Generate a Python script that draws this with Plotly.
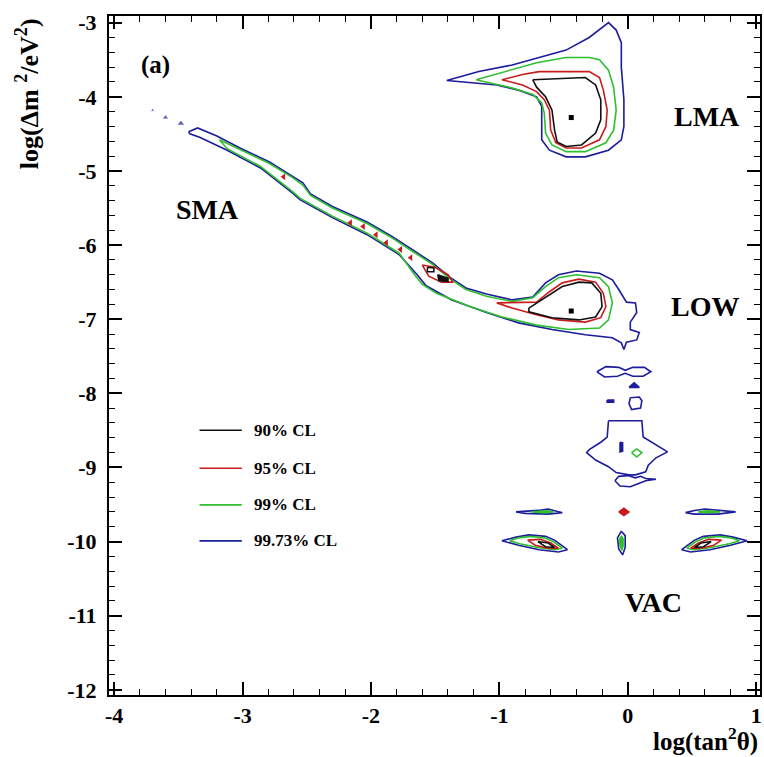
import plotly.graph_objects as go

# Confidence-level line colours
C90 = "#111111"
C95 = "#c81c1c"
C99 = "#2fbf2f"
C997 = "#1c1c9c"

LEVELS = ["90% CL", "95% CL", "99% CL", "99.73% CL"]
LEVEL_COLORS = [C90, C95, C99, C997]

# ---------------- allowed regions: (log tan^2 theta, log dm^2) ----------------
# LMA island
LMA_997 = [(-1.41, -3.78), (-1.16, -3.66), (-0.90, -3.57), (-0.69, -3.47), (-0.48, -3.37),
           (-0.30, -3.20), (-0.20, -3.07), (-0.15, -3.00), (-0.09, -3.10), (-0.05, -3.27),
           (-0.05, -3.60), (-0.03, -4.04), (-0.03, -4.40), (-0.05, -4.58), (-0.15, -4.72),
           (-0.33, -4.81), (-0.48, -4.81), (-0.61, -4.72), (-0.67, -4.58), (-0.67, -4.31),
           (-0.67, -4.13), (-0.71, -4.00), (-0.85, -3.91), (-1.02, -3.84), (-1.23, -3.81)]
LMA_99 = [(-1.18, -3.77), (-0.95, -3.66), (-0.71, -3.54), (-0.48, -3.47), (-0.30, -3.47),
          (-0.22, -3.50), (-0.15, -3.64), (-0.11, -3.87), (-0.09, -4.18), (-0.11, -4.45),
          (-0.17, -4.62), (-0.33, -4.74), (-0.48, -4.74), (-0.59, -4.65), (-0.64, -4.49),
          (-0.65, -4.22), (-0.67, -4.08), (-0.74, -3.97), (-0.90, -3.88), (-1.08, -3.81)]
LMA_95 = [(-0.98, -3.77), (-0.82, -3.70), (-0.69, -3.66), (-0.30, -3.66), (-0.22, -3.74),
          (-0.19, -3.91), (-0.16, -4.18), (-0.17, -4.40), (-0.22, -4.58), (-0.36, -4.69),
          (-0.48, -4.69), (-0.56, -4.62), (-0.60, -4.45), (-0.61, -4.18), (-0.65, -4.04),
          (-0.71, -3.93), (-0.82, -3.84), (-0.92, -3.80)]
LMA_90 = [(-0.74, -3.77), (-0.33, -3.74), (-0.25, -3.84), (-0.21, -4.04), (-0.21, -4.31),
          (-0.25, -4.49), (-0.36, -4.65), (-0.48, -4.67), (-0.55, -4.61), (-0.57, -4.45),
          (-0.59, -4.18), (-0.64, -4.00), (-0.71, -3.87)]

# SMA band joined to the LOW island
BAND_997 = [(-3.42, -4.47), (-3.35, -4.42), (-3.20, -4.53), (-3.02, -4.69), (-2.79, -4.88),
            (-2.61, -5.07), (-2.53, -5.16), (-2.47, -5.31), (-2.30, -5.48), (-2.03, -5.69),
            (-1.83, -5.89), (-1.68, -6.06), (-1.52, -6.24), (-1.39, -6.43), (-1.26, -6.58),
            (-1.10, -6.66), (-0.90, -6.74), (-0.74, -6.70), (-0.64, -6.51), (-0.54, -6.40),
            (-0.40, -6.35), (-0.22, -6.38), (-0.12, -6.47), (-0.07, -6.60), (-0.01, -6.77),
            (0.06, -6.78), (0.07, -6.91), (0.02, -7.04), (0.02, -7.14), (0.09, -7.18),
            (0.07, -7.28), (-0.01, -7.31), (-0.03, -7.41), (-0.05, -7.32), (-0.12, -7.25),
            (-0.33, -7.21), (-0.59, -7.14), (-0.85, -7.05), (-1.10, -6.91), (-1.37, -6.74),
            (-1.57, -6.55), (-1.64, -6.40), (-1.78, -6.13), (-2.03, -5.86), (-2.30, -5.63),
            (-2.55, -5.39), (-2.61, -5.30), (-2.86, -4.96), (-3.12, -4.72), (-3.33, -4.55),
            (-3.41, -4.50)]
BAND_99 = [(-3.18, -4.58), (-3.02, -4.71), (-2.79, -4.90), (-2.61, -5.09), (-2.53, -5.19),
           (-2.47, -5.33), (-2.30, -5.50), (-2.03, -5.71), (-1.83, -5.91), (-1.68, -6.08),
           (-1.52, -6.26), (-1.39, -6.45), (-1.26, -6.60), (-1.10, -6.69), (-0.90, -6.76),
           (-0.74, -6.71), (-0.64, -6.56), (-0.54, -6.44), (-0.40, -6.40), (-0.22, -6.44),
           (-0.15, -6.56), (-0.12, -6.78), (-0.15, -7.01), (-0.22, -7.12), (-0.46, -7.14),
           (-0.71, -7.08), (-0.98, -6.97), (-1.23, -6.83), (-1.49, -6.65), (-1.60, -6.53),
           (-1.66, -6.40), (-1.78, -6.11), (-2.03, -5.84), (-2.30, -5.61), (-2.55, -5.37),
           (-2.61, -5.28), (-2.86, -4.94), (-3.12, -4.70)]
LOW_95 = [(-1.02, -6.78), (-0.71, -6.77), (-0.61, -6.63), (-0.51, -6.51), (-0.38, -6.46),
          (-0.25, -6.50), (-0.19, -6.65), (-0.17, -6.83), (-0.21, -6.98), (-0.33, -7.04),
          (-0.54, -7.01), (-0.71, -6.94), (-0.90, -6.85)]
LOW_90 = [(-0.77, -6.85), (-0.64, -6.71), (-0.51, -6.56), (-0.38, -6.50), (-0.28, -6.51),
          (-0.21, -6.65), (-0.20, -6.83), (-0.25, -6.97), (-0.38, -7.01), (-0.59, -6.98),
          (-0.77, -6.90)]
SMA_95 = [(-1.60, -6.27), (-1.50, -6.30), (-1.40, -6.40), (-1.36, -6.50), (-1.45, -6.50),
          (-1.55, -6.42)]
SMA_90 = [(-1.56, -6.30), (-1.51, -6.31), (-1.51, -6.36), (-1.56, -6.36)]
SMA_90_FILLED = [(-1.48, -6.40), (-1.40, -6.45), (-1.40, -6.49), (-1.47, -6.48)]
# small 95% CL islands along the SMA band
SMA_95_DOTS_X = [-2.68, -2.16, -2.06, -1.96, -1.88, -1.77, -1.69]
SMA_95_DOTS_Y = [-5.08, -5.70, -5.75, -5.86, -5.97, -6.06, -6.17]
# small 99.73% CL islands above the SMA band
SMA_997_DOTS_X = [-3.70, -3.60, -3.48]
SMA_997_DOTS_Y = [-4.18, -4.28, -4.36]

# Vacuum-oscillation islands (99.73% CL unless noted)
VAC_997_A = [(-0.24, -7.71), (-0.17, -7.64), (-0.07, -7.65), (-0.02, -7.69), (0.04, -7.65),
             (0.13, -7.65), (0.18, -7.71), (0.12, -7.77), (0.04, -7.77), (-0.02, -7.73),
             (-0.08, -7.77), (-0.18, -7.78)]
VAC_997_B = [(0.01, -7.92), (0.05, -7.86), (0.09, -7.92)]
VAC_997_C = [(-0.16, -8.09), (-0.11, -8.09), (-0.11, -8.12), (-0.16, -8.12)]
VAC_997_D = [(0.02, -8.06), (0.09, -8.05), (0.11, -8.10), (0.10, -8.20), (0.03, -8.22),
             (0.01, -8.14)]
VAC_997_BELL = [(-0.15, -8.37), (0.11, -8.37), (0.12, -8.59), (0.19, -8.66), (0.31, -8.79),
                (0.22, -8.87), (0.16, -8.97), (0.14, -9.06), (0.06, -9.10), (0.01, -9.10),
                (-0.09, -9.07), (-0.15, -8.99), (-0.25, -8.90), (-0.32, -8.80), (-0.30, -8.76),
                (-0.21, -8.66), (-0.16, -8.59)]
VAC_997_E = [(-0.06, -8.66), (-0.04, -8.67), (-0.04, -8.78), (-0.06, -8.79)]
VAC_99_F = [(0.03, -8.80), (0.07, -8.75), (0.11, -8.80), (0.07, -8.86)]
VAC_997_G = [(-0.10, -9.18), (-0.07, -9.12), (0.00, -9.11), (0.06, -9.14), (0.10, -9.12),
             (0.14, -9.15), (0.22, -9.16), (0.14, -9.18), (0.08, -9.22), (0.02, -9.26),
             (-0.06, -9.25)]
VAC_997_H_LEFT = [(-0.87, -9.60), (-0.70, -9.58), (-0.62, -9.56), (-0.56, -9.59), (-0.51, -9.61),
                  (-0.62, -9.63), (-0.80, -9.62)]
VAC_997_H_RIGHT = [(0.45, -9.61), (0.52, -9.58), (0.60, -9.56), (0.75, -9.58), (0.84, -9.60),
                   (0.70, -9.63), (0.52, -9.63)]
VAC_99_H_LEFT = [(-0.75, -9.60), (-0.62, -9.585), (-0.58, -9.60), (-0.65, -9.61)]
VAC_99_H_RIGHT = [(0.55, -9.60), (0.62, -9.585), (0.72, -9.60), (0.60, -9.61)]
VAC_95_DIAMOND = [(-0.07, -9.60), (-0.03, -9.55), (0.01, -9.60), (-0.03, -9.65)]
VAC_997_CENTRE = [(-0.05, -9.86), (-0.02, -9.92), (-0.02, -10.08), (-0.04, -10.18),
                  (-0.07, -10.10), (-0.08, -9.95)]
VAC_99_CENTRE = [(-0.05, -9.92), (-0.035, -9.96), (-0.035, -10.06), (-0.045, -10.12),
                 (-0.06, -10.06), (-0.065, -9.97)]
LENS_L_997 = [(-0.98, -9.99), (-0.87, -9.94), (-0.77, -9.91), (-0.64, -9.93), (-0.57, -9.98),
              (-0.47, -10.11), (-0.54, -10.14), (-0.69, -10.11), (-0.85, -10.05)]
LENS_L_99 = [(-0.92, -9.99), (-0.85, -9.95), (-0.76, -9.93), (-0.65, -9.95), (-0.58, -10.00),
             (-0.51, -10.09), (-0.57, -10.11), (-0.70, -10.08), (-0.84, -10.03)]
LENS_L_95 = [(-0.78, -9.98), (-0.68, -9.97), (-0.60, -10.02), (-0.54, -10.09), (-0.62, -10.09),
             (-0.72, -10.05)]
LENS_L_90 = [(-0.70, -10.00), (-0.62, -10.02), (-0.57, -10.08), (-0.64, -10.07)]
LENS_R_997 = [(0.93, -9.99), (0.82, -9.94), (0.72, -9.91), (0.59, -9.93), (0.52, -9.98),
              (0.42, -10.11), (0.49, -10.14), (0.64, -10.11), (0.80, -10.05)]
LENS_R_99 = [(0.87, -9.99), (0.80, -9.95), (0.71, -9.93), (0.60, -9.95), (0.53, -10.00),
             (0.46, -10.09), (0.52, -10.11), (0.65, -10.08), (0.79, -10.03)]
LENS_R_95 = [(0.73, -9.98), (0.63, -9.97), (0.55, -10.02), (0.49, -10.09), (0.57, -10.09),
             (0.67, -10.05)]
LENS_R_90 = [(0.65, -10.00), (0.57, -10.02), (0.52, -10.08), (0.59, -10.07)]

# best-fit points
BEST_X = [-0.44, -0.44]
BEST_Y = [-4.28, -6.89]

# axis ticks
X_TICKS = [-4, -3, -2, -1, 0, 1]
Y_TICKS = [-12, -11, -10, -9, -8, -7, -6, -5, -4, -3]

# region labels
REGION_TEXT = ["(a)", "SMA", "LMA", "LOW", "VAC"]
REGION_X = [-3.68, -3.27, 0.62, 0.60, 0.20]
REGION_Y = [-3.57, -5.52, -4.27, -6.83, -10.82]
REGION_SIZE = [25, 28, 28, 28, 28]

SERIF = "Liberation Serif"

fig = go.Figure()


def contour(points, color, width=1.6, filled=False):
    xs = [p[0] for p in points] + [points[0][0]]
    ys = [p[1] for p in points] + [points[0][1]]
    fig.add_trace(go.Scatter(
        x=xs, y=ys, mode="lines",
        line=dict(color=color, width=width),
        fill="toself" if filled else "none",
        fillcolor=color if filled else None,
        showlegend=False, hoverinfo="skip"))


# outermost first, so inner levels sit on top
for pts in [LMA_997, BAND_997, VAC_997_A, VAC_997_D, VAC_997_BELL, VAC_997_G,
            VAC_997_H_LEFT, VAC_997_H_RIGHT, VAC_997_CENTRE, LENS_L_997, LENS_R_997]:
    contour(pts, C997)
for pts in [VAC_997_B, VAC_997_C, VAC_997_E]:
    contour(pts, C997, filled=True)
for pts in [LMA_99, BAND_99, VAC_99_F, LENS_L_99, LENS_R_99, VAC_99_H_LEFT, VAC_99_H_RIGHT]:
    contour(pts, C99)
contour(VAC_99_CENTRE, C99, width=1.2, filled=True)
for pts in [LMA_95, LOW_95, SMA_95, LENS_L_95, LENS_R_95]:
    contour(pts, C95)
contour(VAC_95_DIAMOND, C95, width=1.4, filled=True)
for pts in [LMA_90, LOW_90, SMA_90, LENS_L_90, LENS_R_90]:
    contour(pts, C90)
contour(SMA_90_FILLED, C90, filled=True)

fig.add_trace(go.Scatter(x=SMA_95_DOTS_X, y=SMA_95_DOTS_Y, mode="markers",
                         marker=dict(symbol="triangle-left", size=6, color=C95),
                         showlegend=False, hoverinfo="skip"))
fig.add_trace(go.Scatter(x=SMA_997_DOTS_X, y=SMA_997_DOTS_Y, mode="markers",
                         marker=dict(symbol="triangle-up", size=[4, 6, 7], color=C997),
                         showlegend=False, hoverinfo="skip"))
fig.add_trace(go.Scatter(x=BEST_X, y=BEST_Y, mode="markers",
                         marker=dict(symbol="square", size=5, color="black"),
                         showlegend=False, hoverinfo="skip"))

# region labels
for t, x, y, s in zip(REGION_TEXT, REGION_X, REGION_Y, REGION_SIZE):
    fig.add_annotation(x=x, y=y, xref="x", yref="y", text=t, showarrow=False,
                       font=dict(family=SERIF, size=s, color="black", weight="bold"))

# legend: short line segments with labels
LEG_Y = [0.390, 0.334, 0.280, 0.227]
for name, col, ly in zip(LEVELS, LEVEL_COLORS, LEG_Y):
    fig.add_shape(type="line", xref="paper", yref="paper", x0=0.139, x1=0.204,
                  y0=ly, y1=ly, line=dict(color=col, width=1.6))
    fig.add_annotation(x=0.219, y=ly, xref="paper", yref="paper", text=name,
                       showarrow=False, xanchor="left", yanchor="middle",
                       font=dict(family=SERIF, size=17, color="black", weight="bold"))

# axis titles
fig.add_annotation(x=1.0, y=-0.066, xref="paper", yref="paper",
                   text="log(tan<sup>2</sup>θ)", showarrow=False,
                   xanchor="right", yanchor="middle",
                   font=dict(family=SERIF, size=25, color="black", weight="bold"))
fig.add_annotation(x=-0.125, y=1.0, xref="paper", yref="paper",
                   text="log(Δm <sup>2</sup>/eV<sup>2</sup>)", showarrow=False,
                   textangle=-90, xanchor="center", yanchor="top",
                   font=dict(family=SERIF, size=26, color="black", weight="bold"))

axis_common = dict(
    showline=True, linecolor="black", linewidth=2, mirror="allticks",
    ticks="inside", ticklen=13, tickwidth=1.6, tickcolor="black",
    showgrid=False, zeroline=False,
    tickfont=dict(family=SERIF, size=22, color="black", weight="bold"),
    minor=dict(ticks="inside", ticklen=6, tickwidth=1.4, tickcolor="black",
               dtick=0.2, tick0=0, showgrid=False),
)

fig.update_layout(
    width=764, height=757,
    margin=dict(l=109, r=2, t=16, b=62),
    paper_bgcolor="white", plot_bgcolor="white",
    showlegend=False,
    xaxis=dict(range=[-4.04, 1.03], tickmode="array", tickvals=X_TICKS,
               ticktext=[str(v) for v in X_TICKS], **axis_common),
    yaxis=dict(range=[-12.07, -2.91], tickmode="array", tickvals=Y_TICKS,
               ticktext=[str(v) for v in Y_TICKS], ticklabelstandoff=6, **axis_common),
)

fig.write_html("out.html")
